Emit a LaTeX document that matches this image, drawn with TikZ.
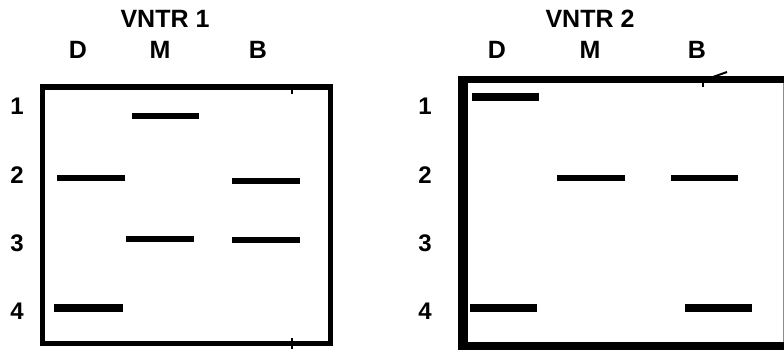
\documentclass[tikz,border=0pt]{standalone}
\usepackage{fontspec}
\setmainfont{Liberation Sans}
\usetikzlibrary{positioning}
\tikzset{
  gel/.style={draw=black, line width=#1, line cap=butt},
  band/.style={draw=black, line width=#1, line cap=butt},
  tick/.style={draw=black, line width=1.5pt},
  ttl/.style={font=\fontsize{25}{27}\selectfont\bfseries, inner sep=0pt},
  lane/.style={font=\fontsize{25}{27}\selectfont\bfseries, inner sep=0pt},
  row/.style={font=\fontsize{24}{26}\selectfont\bfseries, inner sep=0pt},
}
\begin{document}
\begin{tikzpicture}[x=1pt,y=-1pt]
  \useasboundingbox (0,0) rectangle (784,350);

  % titles and lane letters
  \node[ttl] (title1) at (165,19) {VNTR 1};
  \node[ttl] (title2) at (590,19) {VNTR 2};
  \foreach \x/\n in {78/D, 160/M, 258/B} {
    \node[lane] (laneA\n) at (\x,50) {\n};
  }
  \foreach \x/\n in {497/D, 590/M, 697/B} {
    \node[lane] (laneB\n) at (\x,50) {\n};
  }

  % row numbers
  \foreach \y/\n in {106/1, 175/2, 243/3, 311/4} {
    \node[row] (rowA\n) at (17,\y) {\n};
    \node[row] (rowB\n) at (425,\y) {\n};
  }

  % gel 1
  \draw[gel=5.5pt] (42.5,87) rectangle (330.5,343.5);
  \draw[tick] (292,84) -- (292,94);
  \draw[tick] (292,338) -- (292,349);
  \draw[band=6pt] (132,116) -- (199,116);
  \draw[band=6pt] (57,178) -- (125,178);
  \draw[band=6pt] (232,181) -- (300,181);
  \draw[band=6pt] (126,239) -- (194,239);
  \draw[band=6pt] (232,240) -- (300,240);
  \draw[band=8pt] (54,308) -- (123,308);

  % gel 2
  \draw[gel=7pt] (459,80) -- (784,80);
  \draw[gel=10pt] (463,76.5) -- (463,350);
  \draw[gel=8pt] (458,346) -- (784,346);
  \draw[draw=black!45, line width=1pt] (783,83) -- (783,342);
  \draw[tick] (703,77) -- (703,87);
  \draw[line width=2pt] (713,77) -- (727,72);
  \draw[band=8pt] (472,97) -- (539,97);
  \draw[band=6pt] (557,178) -- (625,178);
  \draw[band=6pt] (671,178) -- (738,178);
  \draw[band=8pt] (470,308) -- (537,308);
  \draw[band=8pt] (685,308) -- (752,308);
\end{tikzpicture}
\end{document}
